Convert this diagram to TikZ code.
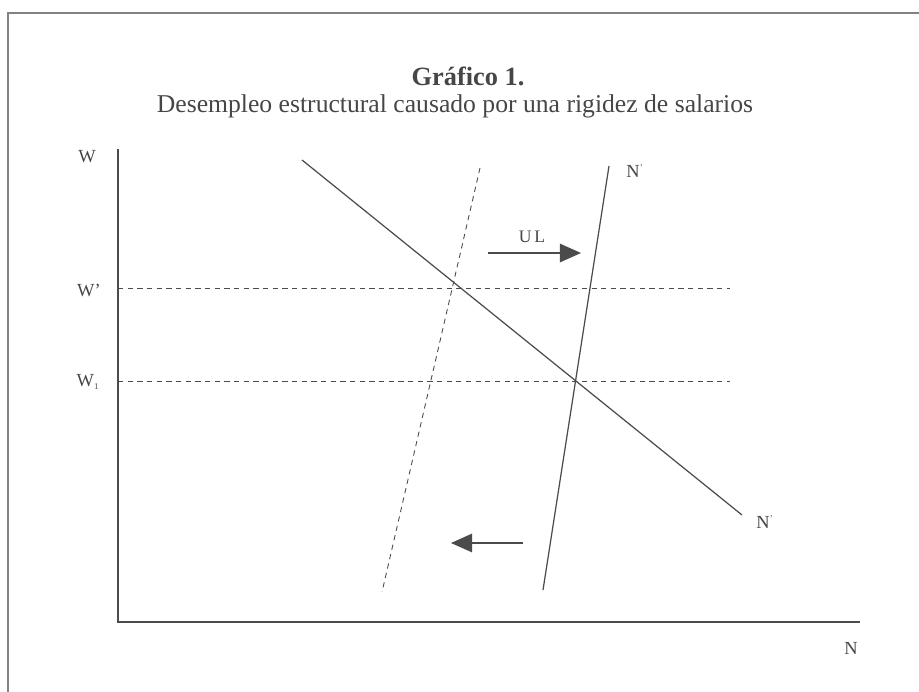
\documentclass[tikz,border=0pt]{standalone}
\usepackage{fontspec}
\setmainfont{Liberation Serif}
\usetikzlibrary{arrows.meta, positioning}
\definecolor{inkgray}{RGB}{75, 75, 75}
\definecolor{framegray}{RGB}{130, 130, 130}
\definecolor{textgray}{RGB}{70, 70, 70}

\begin{document}
\begin{tikzpicture}[
  x=0.02cm, y=-0.02cm,
  frameline/.style={draw=framegray, line width=1.2pt},
  axis/.style={draw=inkgray, line width=0.8pt},
  curve/.style={draw=inkgray, line width=0.7pt},
  guide/.style={draw=inkgray, line width=0.5pt, dash pattern=on 3pt off 2.5pt},
  shiftarrow/.style={-{Triangle[length=12pt, width=10.5pt]}, draw=inkgray, fill=inkgray, line width=0.9pt},
  lbl/.style={text=textgray, font=\fontsize{10.5}{12}\selectfont, inner sep=0pt},
]
  \useasboundingbox (0,0) rectangle (919,692);

  % Frame
  \coordinate (fbl) at (8,692);
  \coordinate (ftl) at (8,13);
  \coordinate (ftr) at (919,13);
  \draw[frameline] (fbl) -- (ftl) -- (ftr);

  % Title
  \node[text=textgray, font=\fontsize{15}{17}\selectfont\bfseries, anchor=base, inner sep=0pt]
    (title) at (468,86) {Gráfico 1.};
  \node[text=textgray, font=\fontsize{14.6}{17}\selectfont, anchor=base, inner sep=0pt]
    (subtitle) at (455,113) {Desempleo estructural causado por una rigidez de salarios};

  % Axes
  \coordinate (origin) at (118,622);
  \coordinate (ytop) at (118,149);
  \coordinate (xend) at (860,622);
  \draw[axis] (ytop) -- (origin) -- (xend);
  \node[lbl] (wlab) at (87,157) {W};
  \node[lbl] (nlab) at (851,648) {N};

  % Wage levels
  \node[lbl] (whigh) at (89,291) {W'};
  \node[lbl] (wlow) at (88,382) {W\textsubscript{\tiny 1}};
  \coordinate (whighA) at (118,288);
  \coordinate (whighB) at (730,288);
  \coordinate (wlowA) at (118,381);
  \coordinate (wlowB) at (730,381);
  \draw[guide] (whighA) -- (whighB);
  \draw[guide] (wlowA) -- (wlowB);

  % Demand
  \coordinate (dtop) at (302,160);
  \coordinate (dbot) at (742,515);
  \draw[curve] (dtop) -- (dbot);
  \node[lbl] (dlab) at (765,522) {N\textsuperscript{\tiny '}};

  % Supply curves
  \coordinate (stop) at (609,166);
  \coordinate (sbot) at (543,590);
  \draw[curve] (stop) -- (sbot);
  \node[lbl] (slab) at (635,171) {N\textsuperscript{\tiny '}};
  \coordinate (otop) at (480,168);
  \coordinate (obot) at (382,592);
  \draw[guide] (otop) -- (obot);

  % Shifts
  \coordinate (ulA) at (488,253);
  \coordinate (ulB) at (581,253);
  \draw[shiftarrow] (ulA) -- (ulB);
  \node[lbl, font=\fontsize{10}{12}\selectfont] (ullab) at (532,237) {U\,L};
  \coordinate (lfA) at (523,543);
  \coordinate (lfB) at (451,543);
  \draw[shiftarrow] (lfA) -- (lfB);
\end{tikzpicture}
\end{document}
